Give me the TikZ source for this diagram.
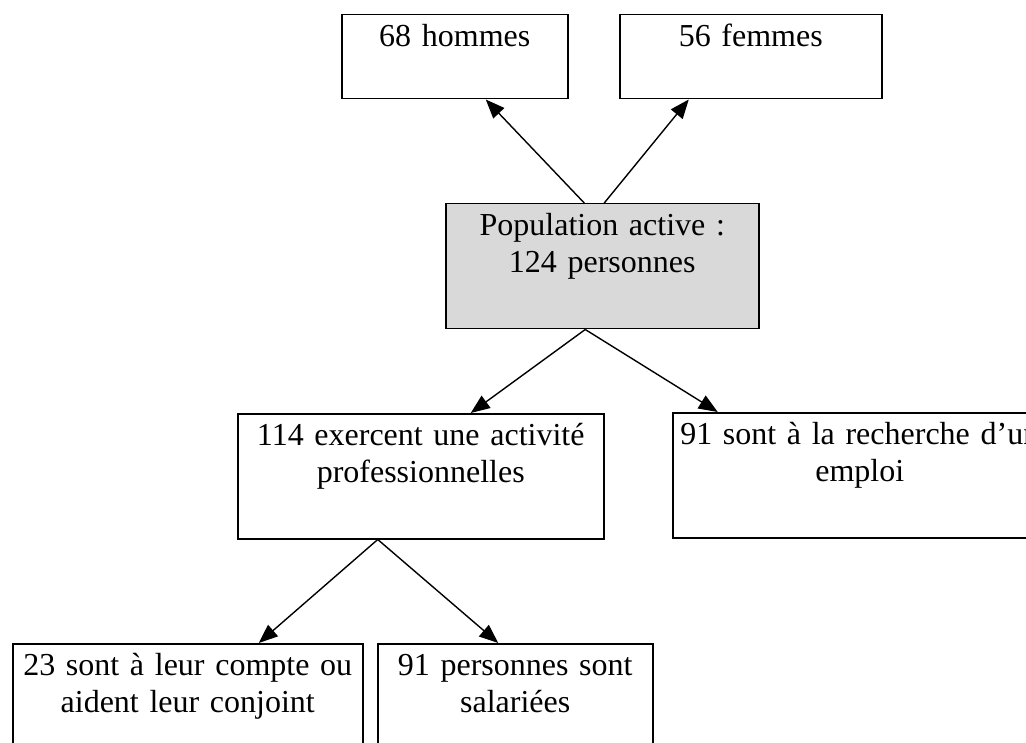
\documentclass[tikz,border=0pt]{standalone}
\usepackage{fontspec}
\setmainfont{Liberation Serif}
\usepackage{tikz}
\usepackage{xcolor}
\usetikzlibrary{arrows.meta}

\begin{document}
\begin{tikzpicture}[x=1pt,y=-1pt,
  box/.style={draw,line width=1.5pt,inner sep=0pt,anchor=north west,align=center,
    text width=#1,text height=32pt,text depth=93pt,
    font=\fontsize{32}{37}\selectfont},
  arr/.style={-{Triangle[length=19pt,width=15pt]},line width=1.4pt}]
\useasboundingbox (0,0) rectangle (1026,743);
\clip (0,0) rectangle (1026,743);
\node [box=226pt,text depth=52pt] (hommes) at (341,14) {68 hommes};
\node [box=262pt,text depth=52pt] (femmes) at (619,14) {56 femmes};
\node [box=313pt,fill=black!15] (pop) at (445,203) {Population active :\\124 personnes};
\node [box=366pt] (actifs) at (237,413) {114 exercent une activité\\professionnelles};
\node [box=374pt] (chomeurs) at (672,412) {91 sont à la recherche d’un\\emploi};
\node [box=350pt] (indep) at (12,643) {23 sont à leur compte ou\\aident leur conjoint};
\node [box=275pt] (salaries) at (377,643) {91 personnes sont\\salariées};
% fleches
\draw [arr] ([xshift=-18pt]pop.north) -- ([xshift=31pt]hommes.south);
\draw [arr] ([xshift=2pt]pop.north) -- ([xshift=-62pt]femmes.south);
\draw [arr] ([xshift=-17pt]pop.south) -- ([xshift=50pt]actifs.north);
\draw [arr] ([xshift=-17pt]pop.south) -- ([xshift=-142pt]chomeurs.north);
\draw [arr] ([xshift=-43pt]actifs.south) -- ([xshift=71pt]indep.north);
\draw [arr] ([xshift=-43pt]actifs.south) -- ([xshift=-17pt]salaries.north);
\end{tikzpicture}
\end{document}
